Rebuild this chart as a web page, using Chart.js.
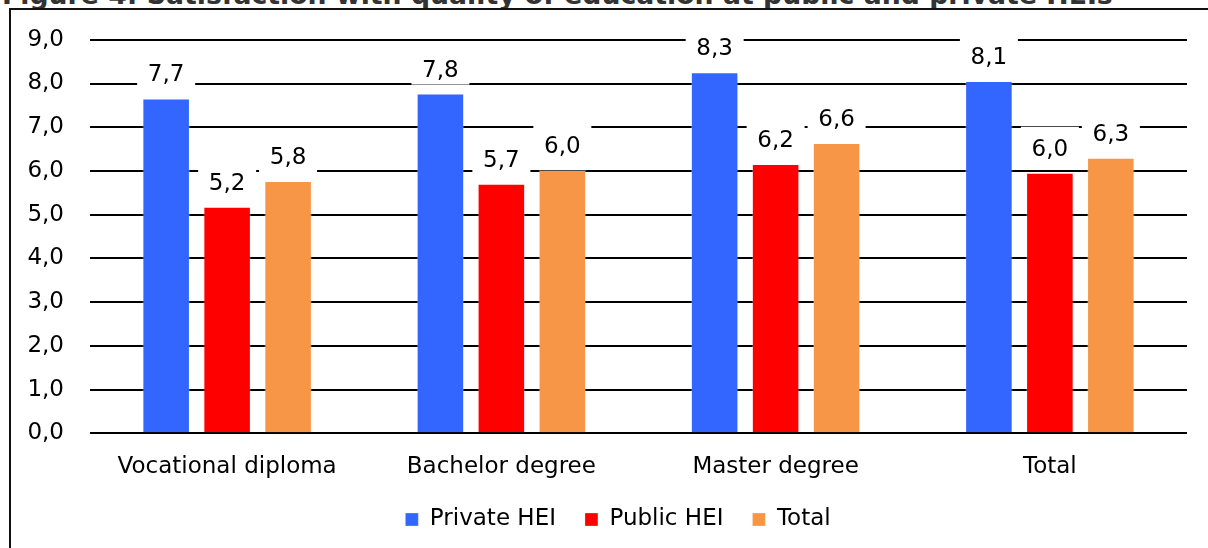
<!DOCTYPE html>
<html><head><meta charset="utf-8">
<script src="https://cdn.jsdelivr.net/npm/chart.js@4.4.1/dist/chart.umd.min.js"></script>
<style>
html,body{margin:0;padding:0;background:#fff;width:1208px;height:548px;overflow:hidden;}
#wrap{position:relative;width:1208px;height:548px;overflow:hidden;background:#fff;}
#frame{position:absolute;left:9px;top:8px;width:1300px;height:700px;border-left:2px solid #111;border-top:2px solid #111;}
#title{position:absolute;left:2px;white-space:nowrap;font-family:'DejaVu Sans';font-weight:bold;color:#333;}
canvas{position:absolute;left:0;top:0;}
</style></head><body>
<div id="wrap">
  <div id="title">Figure 4: Satisfaction with quality of education at public and private HEIs</div>
  <div id="frame"></div>
  <canvas id="c" width="1208" height="546"></canvas>
</div>
<script>
// ---- data ----
const categories = ['Vocational diploma', 'Bachelor degree', 'Master degree', 'Total'];
const seriesNames = ['Private HEI', 'Public HEI', 'Total'];
const privateHEI = [7.66, 7.77, 8.26, 8.06];
const publicHEI  = [5.18, 5.71, 6.16, 5.96];
const totalHEI   = [5.77, 6.02, 6.64, 6.30];
const yTicks = [0, 1, 2, 3, 4, 5, 6, 7, 8, 9];

const fmt = v => Number(v).toFixed(1).replace('.', ',');
const FONT = 'DejaVu Sans';
const FS = 23;

// title sizing
(function(){
  const t = document.getElementById('title');
  const cv = document.createElement('canvas').getContext('2d');
  cv.font = 'bold 100px "' + FONT + '"';
  const w = cv.measureText(t.textContent).width;
  const size = 100 * 1111 / w;
  t.style.fontSize = size + 'px';
  t.style.lineHeight = size + 'px';
  t.style.top = (5 - 0.846 * size) + 'px';
})();

const valueLabels = {
  id: 'valueLabels',
  afterDatasetsDraw(chart) {
    const ctx = chart.ctx;
    ctx.save();
    ctx.font = FS + 'px "' + FONT + '"';
    ctx.textAlign = 'center';
    ctx.textBaseline = 'alphabetic';
    chart.data.datasets.forEach((ds, i) => {
      const meta = chart.getDatasetMeta(i);
      meta.data.forEach((bar, j) => {
        const x = bar.x, y = bar.y;
        ctx.fillStyle = '#fff';
        ctx.fillRect(x - 29, y - 46, 58, 37);
        ctx.fillStyle = '#000';
        ctx.fillText(fmt(ds.data[j]), x, y - 17);
      });
    });
    ctx.restore();
  }
};

const legendShift = {
  id: 'legendShift',
  afterLayout(chart) {
    const lg = chart.legend;
    if (!lg) return;
    lg.left += 24.5; lg.right += 24.5;
    lg.top -= 5; lg.bottom -= 5;
  }
};

new Chart(document.getElementById('c'), {
  type: 'bar',
  data: {
    labels: categories,
    datasets: [
      { label: seriesNames[0], data: privateHEI, backgroundColor: '#3366FF', borderColor: 'rgba(255,255,255,0.3)', borderWidth: 1 },
      { label: seriesNames[1], data: publicHEI,  backgroundColor: '#FF0000', borderColor: 'rgba(255,255,255,0.3)', borderWidth: 1 },
      { label: seriesNames[2], data: totalHEI,   backgroundColor: '#F79646', borderColor: 'rgba(255,255,255,0.3)', borderWidth: 1 }
    ]
  },
  options: {
    responsive: false,
    animation: false,
    devicePixelRatio: 1,
    layout: { padding: { left: 0, right: 21, top: 35, bottom: 0 } },
    datasets: { bar: { categoryPercentage: 0.667, barPercentage: 0.78 } },
    scales: {
      x: {
        grid: { display: false },
        border: { display: false },
        ticks: { font: { family: FONT, size: FS }, color: '#000', padding: 11.5 },
        afterFit: s => { s.height = 50.7; }
      },
      y: {
        min: 0, max: 9,
        afterBuildTicks: s => { s.ticks = yTicks.map(v => ({ value: v })); },
        grid: { color: '#000', lineWidth: 2, drawTicks: false },
        border: { display: false },
        ticks: { font: { family: FONT, size: FS }, color: '#000', padding: 26, callback: v => fmt(v) },
        afterFit: s => { s.width = 90; }
      }
    },
    plugins: {
      legend: {
        position: 'bottom',
        labels: { boxWidth: 13, boxHeight: 13, padding: 29, color: '#000', font: { family: FONT, size: FS } }
      },
      tooltip: { enabled: false },
      title: { display: false }
    }
  },
  plugins: [valueLabels, legendShift]
});
</script>
</body></html>
